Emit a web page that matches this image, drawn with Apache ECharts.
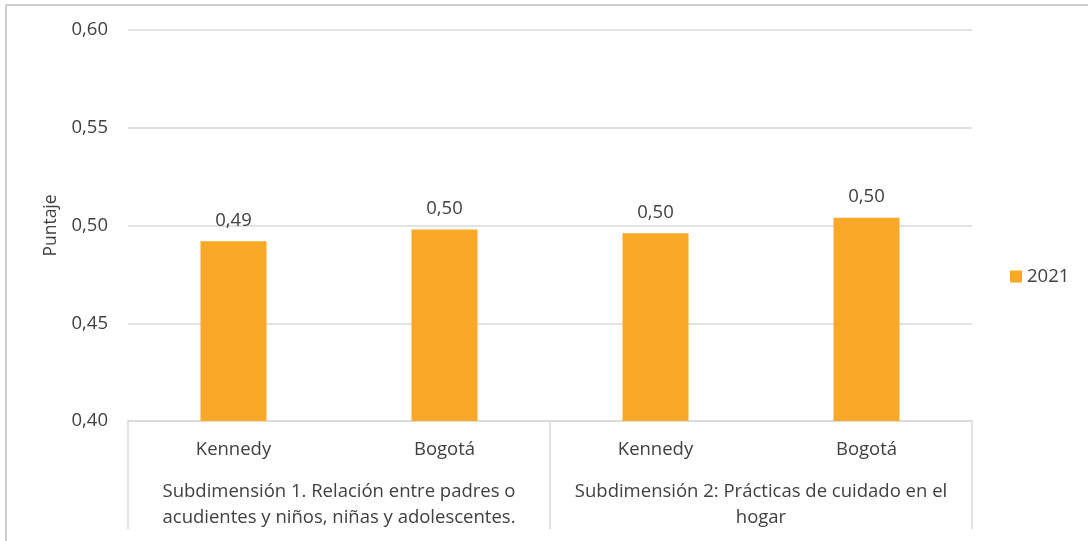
<!DOCTYPE html>
<html>
<head>
<meta charset="utf-8">
<script src="https://cdn.jsdelivr.net/npm/echarts@6/dist/echarts.min.js"></script>
<style>
html,body{margin:0;padding:0;background:#fff;}
#chart{width:1088px;height:541px;}
</style>
</head>
<body>
<div id="chart"></div>
<script>
const categories = ['Kennedy', 'Bogotá', 'Kennedy', 'Bogotá'];
const groups = [
  'Subdimensión 1. Relación entre padres o\nacudientes y niños, niñas y adolescentes.',
  'Subdimensión 2: Prácticas de cuidado en el\nhogar'
];
const seriesName = '2021';
const values2021 = [0.492, 0.498, 0.496, 0.504];
const yTicks = { min: 0.40, max: 0.60, interval: 0.05 };
const yAxisName = 'Puntaje';

const FONT = '"Open Sans", "Noto Sans", sans-serif';
const TXT = '#404040';
const FS = 18.5;
const fmt = v => v.toFixed(2).replace('.', ',');

const chart = echarts.init(document.getElementById('chart'), null, {renderer: 'canvas'});
chart.setOption({
  backgroundColor: '#ffffff',
  animation: false,
  textStyle: { fontFamily: FONT, color: TXT },
  graphic: [{
    type: 'rect',
    shape: { x: 6, y: 5, width: 1200, height: 700 },
    style: { fill: 'none', stroke: '#bfbfbf', lineWidth: 1.5 },
    silent: true
  }],
  grid: { left: 128, right: 116, top: 30, bottom: 120 },
  legend: {
    data: [seriesName],
    left: 1005, top: 262,
    orient: 'vertical',
    itemWidth: 12, itemHeight: 12, itemGap: 6,
    icon: 'rect',
    textStyle: { fontFamily: FONT, fontSize: FS, color: TXT }
  },
  xAxis: [{
    type: 'category',
    data: categories,
    position: 'bottom',
    axisLine: { show: true, lineStyle: { color: '#d9d9d9', width: 1.5 } },
    axisTick: { show: false },
    axisLabel: { fontFamily: FONT, fontSize: FS, color: TXT, margin: 17, verticalAlign: 'top', lineHeight: 24 }
  }, {
    type: 'category',
    data: groups,
    position: 'bottom',
    axisLine: { show: false },
    axisTick: { show: true, length: 108, interval: 0, lineStyle: { color: '#d9d9d9', width: 1.5 } },
    axisLabel: { fontFamily: FONT, fontSize: FS, color: TXT, margin: 58, verticalAlign: 'top', lineHeight: 26, align: 'center', interval: 0 }
  }],
  yAxis: {
    type: 'value',
    min: yTicks.min, max: yTicks.max, interval: yTicks.interval,
    name: yAxisName,
    nameLocation: 'middle',
    nameGap: 68,
    nameRotate: 90,
    nameTextStyle: { fontFamily: FONT, fontSize: 17.5, color: TXT },
    axisLine: { show: false },
    axisTick: { show: false },
    splitLine: { lineStyle: { color: '#d9d9d9', width: 1.5 } },
    axisLabel: { fontFamily: FONT, fontSize: FS, color: TXT, margin: 20, formatter: v => fmt(v) }
  },
  series: [{
    name: seriesName,
    type: 'bar',
    xAxisIndex: 0,
    data: values2021,
    barWidth: 66,
    itemStyle: { color: '#F9A828' },
    label: {
      show: true, position: 'top', distance: 11,
      fontFamily: FONT, fontSize: FS, color: TXT,
      formatter: p => fmt(p.value)
    }
  }]
});
</script>
</body>
</html>
